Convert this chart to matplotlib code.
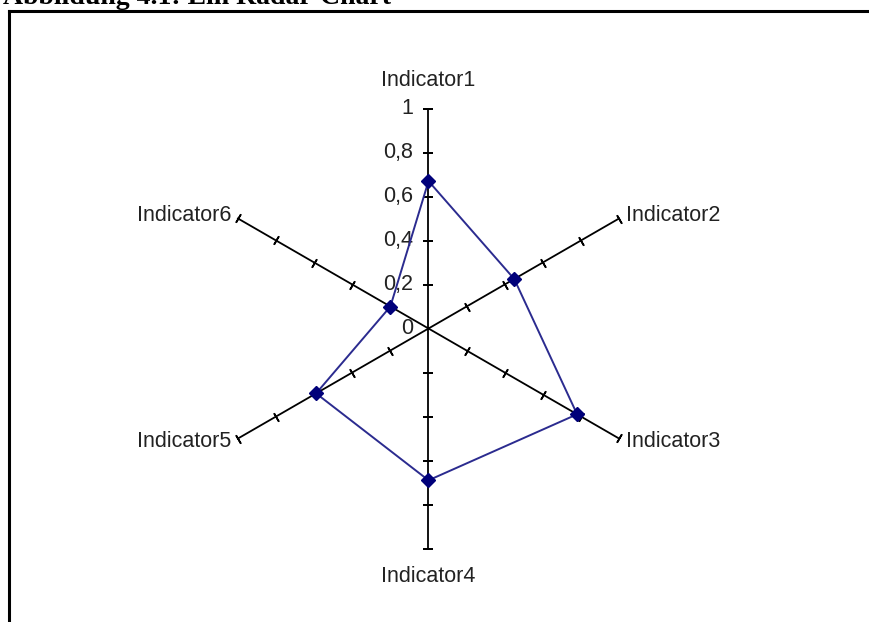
import numpy as np
import matplotlib
matplotlib.use('Agg')
import matplotlib.pyplot as plt
from matplotlib.lines import Line2D

# data
indicators = ['Indicator1', 'Indicator2', 'Indicator3', 'Indicator4', 'Indicator5', 'Indicator6']
values = [0.67, 0.45, 0.78, 0.69, 0.59, 0.20]
tick_vals = [0.2, 0.4, 0.6, 0.8, 1.0]
tick_labels = ['0', '0,2', '0,4', '0,6', '0,8', '1']
title = 'Abbildung 4.1: Ein Radar-Chart'

W, H = 870, 622
fig = plt.figure(figsize=(W/100, H/100), dpi=100)

# radar centre ~ (428.5, 328.5) px, radius ~220 px
cx, cy, R = 428.5, 328.5, 220
ax = fig.add_axes([(cx-R)/W, (H-cy-R)/H, 2*R/W, 2*R/H], projection='polar')
ax.set_theta_zero_location('N')
ax.set_theta_direction(-1)
ax.set_ylim(0, 1)
ax.set_axis_off()

deg = np.arange(len(indicators)) * 360 / len(indicators)
theta = np.deg2rad(deg)

# spokes with cross ticks
for t, d in zip(theta, deg):
    ax.plot([t, t], [0, 1], color='black', lw=1.3, clip_on=False)
    ax.plot([t]*len(tick_vals), tick_vals, ls='none', marker=(2, 2, 90-d),
            ms=7, mew=1.2, color='black', clip_on=False)

# value labels on the vertical axis
for v, lab in zip([0] + tick_vals, tick_labels):
    ax.annotate(lab, (0, v), xytext=(-11, 0), textcoords='offset points',
                ha='right', va='center', fontsize=15.5, color='#222222',
                family='Liberation Sans', annotation_clip=False)

# category labels
offs = [(0, 20, 'center'), (5, 2, 'left'), (5, -2, 'left'),
        (0, -20, 'center'), (-5, -2, 'right'), (-5, 2, 'right')]
for t, name, (dx, dy, ha) in zip(theta, indicators, offs):
    ax.annotate(name, (t, 1), xytext=(dx, dy), textcoords='offset points',
                ha=ha, va='center', fontsize=15.5, color='#222222',
                family='Liberation Sans', annotation_clip=False)

# the series
tt = np.append(theta, theta[0])
vv = np.append(values, values[0])
ax.plot(tt, vv, color='#2b2b8f', lw=1.4, clip_on=False, zorder=5)
ax.plot(theta, values, ls='none', marker='D', ms=7.5, color='#00007a', clip_on=False, zorder=6)

# frame and caption (cut off at the top edge, as in the reference)
fig.add_artist(Line2D([9/W, 1], [1-10.5/H, 1-10.5/H], color='black', lw=2.2))
fig.add_artist(Line2D([9.5/W, 9.5/W], [0, 1-10.5/H], color='black', lw=2.2))
fig.text(3/W, 1-3.5/H, title, family='Liberation Serif', weight='bold',
         fontsize=20, va='baseline', ha='left')

fig.savefig('out.png', dpi=100, facecolor='white')
